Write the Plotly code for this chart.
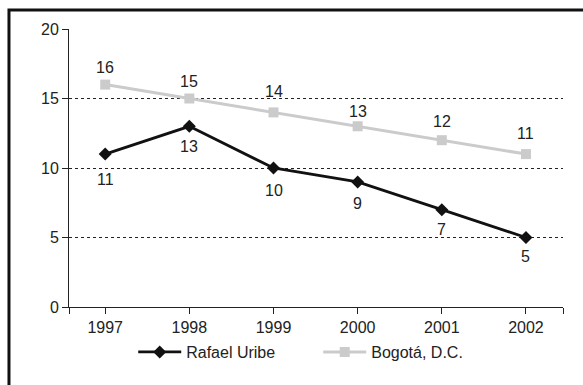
import plotly.graph_objects as go

years = [1997, 1998, 1999, 2000, 2001, 2002]
rafael_uribe = [11, 13, 10, 9, 7, 5]
bogota = [16, 15, 14, 13, 12, 11]
y_ticks = [0, 5, 10, 15, 20]

FONT = "Liberation Sans"
FS = 16
x_lo, x_hi = 1996.57, 2002.44

# vertical offsets (px) of the value labels from their markers
rafael_shift = [-25, -20, -22, -22, -20, -19]
bogota_shift = [17, 17, 21, 15, 19, 21]

fig = go.Figure()

fig.add_trace(go.Scatter(
    x=years, y=bogota, name="Bogotá, D.C.",
    mode="lines+markers",
    line=dict(color="#cbcbcb", width=3),
    marker=dict(symbol="square", size=10, color="#cbcbcb"),
))
fig.add_trace(go.Scatter(
    x=years, y=rafael_uribe, name="Rafael Uribe",
    mode="lines+markers",
    line=dict(color="#111111", width=2.8),
    marker=dict(symbol="diamond", size=10, color="#111111"),
))

for xs, ys, shifts in ((years, bogota, bogota_shift), (years, rafael_uribe, rafael_shift)):
    for xv, yv, s in zip(xs, ys, shifts):
        fig.add_annotation(x=xv, y=yv, text=str(yv), showarrow=False,
                           yshift=s, font=dict(family=FONT, size=FS, color="#222222"))

# outer frame, open on the right and bottom edges of the page
fig.add_shape(type="rect", xref="paper", yref="paper",
              x0=-0.1215, x1=1.2, y0=-0.4, y1=1.068,
              line=dict(color="#111111", width=3), layer="below")

fig.update_layout(
    width=583, height=385,
    margin=dict(l=69, r=20, t=29, b=78, autoexpand=False),
    paper_bgcolor="white", plot_bgcolor="white",
    font=dict(family=FONT, size=FS, color="#222222"),
    showlegend=True,
    legend=dict(orientation="h", x=0.13, xanchor="left", y=-0.162, yanchor="middle",
                traceorder="reversed", itemwidth=43,
                entrywidth=127, entrywidthmode="pixels",
                font=dict(family=FONT, size=FS, color="#222222")),
    xaxis=dict(range=[x_lo, x_hi],
               tickvals=[x_lo] + years + [x_hi],
               ticktext=[""] + [str(y) for y in years] + [""],
               showgrid=False, zeroline=False,
               showline=True, linecolor="#222222", linewidth=1,
               ticks="outside", ticklen=6, tickcolor="#222222"),
    yaxis=dict(range=[0, 20], tickvals=y_ticks,
               showgrid=True, gridcolor="#222222", gridwidth=1, griddash="dot",
               zeroline=False,
               showline=True, linecolor="#222222", linewidth=1,
               ticks="outside", ticklen=6, tickcolor="#222222"),
)

fig.write_html("out.html")
